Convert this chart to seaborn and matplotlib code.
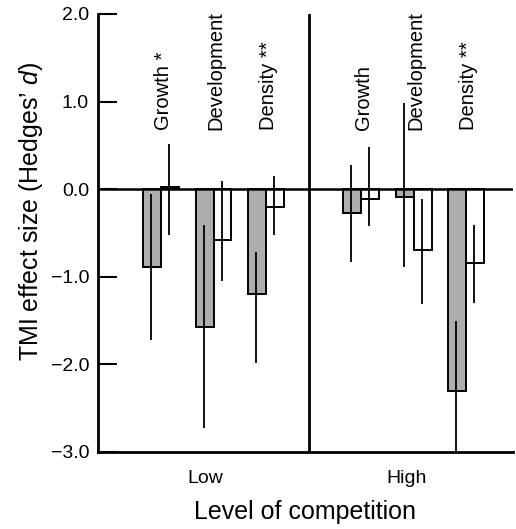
import matplotlib
matplotlib.use("Agg")
import matplotlib.pyplot as plt
import numpy as np
import pandas as pd
import seaborn as sns

# values (Hedges' d, mean and interval ends)
competition = ["Low", "High"]
traits = ["Growth", "Development", "Density"]
marks = {"Low": ["*", "", "**"], "High": ["", "", "**"]}

shaded_mean = {"Low": [-0.89, -1.57, -1.20], "High": [-0.27, -0.09, -2.30]}
shaded_lo = {"Low": [-1.72, -2.73, -1.98], "High": [-0.83, -0.89, -3.09]}
shaded_hi = {"Low": [-0.06, -0.41, -0.72], "High": [0.28, 0.98, -1.51]}

open_mean = {"Low": [0.02, -0.58, -0.20], "High": [-0.11, -0.70, -0.84]}
open_lo = {"Low": [-0.52, -1.05, -0.52], "High": [-0.42, -1.31, -1.30]}
open_hi = {"Low": [0.52, 0.09, 0.15], "High": [0.48, -0.11, -0.41]}

# layout
GROUP_OFFSET = {"Low": 0.0, "High": 3.81}
GROUP_TICK = {"Low": 0.84, "High": 4.67}
DIVIDER = 2.82
PAIR_WIDTH = 0.68
LABEL_Y = 0.67

sns.set_style("ticks")
plt.rcParams["font.family"] = ["Liberation Sans", "DejaVu Sans"]
plt.rcParams["mathtext.fontset"] = "custom"
plt.rcParams["mathtext.rm"] = "Liberation Sans"
plt.rcParams["mathtext.it"] = "Liberation Sans:italic"
for key in ["text.color", "axes.labelcolor", "xtick.color", "ytick.color", "axes.edgecolor"]:
    plt.rcParams[key] = "black"

rows = []
for comp in competition:
    for i, trait in enumerate(traits):
        pos = GROUP_OFFSET[comp] + i
        rows.append({"pos": pos, "series": "shaded", "effect": shaded_mean[comp][i],
                     "lo": shaded_lo[comp][i], "hi": shaded_hi[comp][i]})
        rows.append({"pos": pos, "series": "open", "effect": open_mean[comp][i],
                     "lo": open_lo[comp][i], "hi": open_hi[comp][i]})
df = pd.DataFrame(rows)

fig = plt.figure(figsize=(5.16, 5.29), dpi=100)
ax = fig.add_axes([0.190, 0.1456, 0.804, 0.828])

sns.barplot(data=df, x="pos", y="effect", hue="series", native_scale=True,
            width=PAIR_WIDTH, dodge=True, errorbar=None, legend=False,
            palette={"shaded": "#adadad", "open": "white"},
            edgecolor="black", linewidth=1.4, ax=ax)

# error bars (no caps)
shift = {"shaded": -PAIR_WIDTH / 4, "open": PAIR_WIDTH / 4}
for _, r in df.iterrows():
    ax.vlines(r["pos"] + shift[r["series"]] - 0.015, r["lo"], r["hi"],
              color="black", lw=1.3, zorder=3)

ax.axhline(0, color="black", lw=1.8, zorder=4)
ax.axvline(DIVIDER, color="black", lw=2.0, zorder=4)

for comp in competition:
    for i, trait in enumerate(traits):
        label = trait + (" " + marks[comp][i] if marks[comp][i] else "")
        ax.text(GROUP_OFFSET[comp] + i + 0.04, LABEL_Y, label, rotation=90,
                ha="center", va="bottom", fontsize=14.5)

ax.set_xlim(-1.2, 6.70)
ax.set_ylim(-3.0, 2.0)
ax.set_yticks([2.0, 1.0, 0.0, -1.0, -2.0, -3.0])
ax.set_yticklabels(["2.0", "1.0", "0.0", "\u22121.0", "\u22122.0", "\u22123.0"])
ax.set_xticks([GROUP_TICK[c] for c in competition])
ax.set_xticklabels(competition)

ax.tick_params(axis="y", direction="in", length=13.5, width=1.5, labelsize=14, pad=6.5)
ax.tick_params(axis="x", length=0, labelsize=14, pad=13)

ax.set_xlabel("Level of competition", fontsize=18, labelpad=9)
ax.set_ylabel("TMI effect size (Hedges\u2019 $\\it{d}$)", fontsize=18)
ax.yaxis.set_label_coords(-0.128, 0.55)

sns.despine(ax=ax)
for side in ["left", "bottom"]:
    ax.spines[side].set_linewidth(2.0)

fig.savefig("out.png", dpi=100)
